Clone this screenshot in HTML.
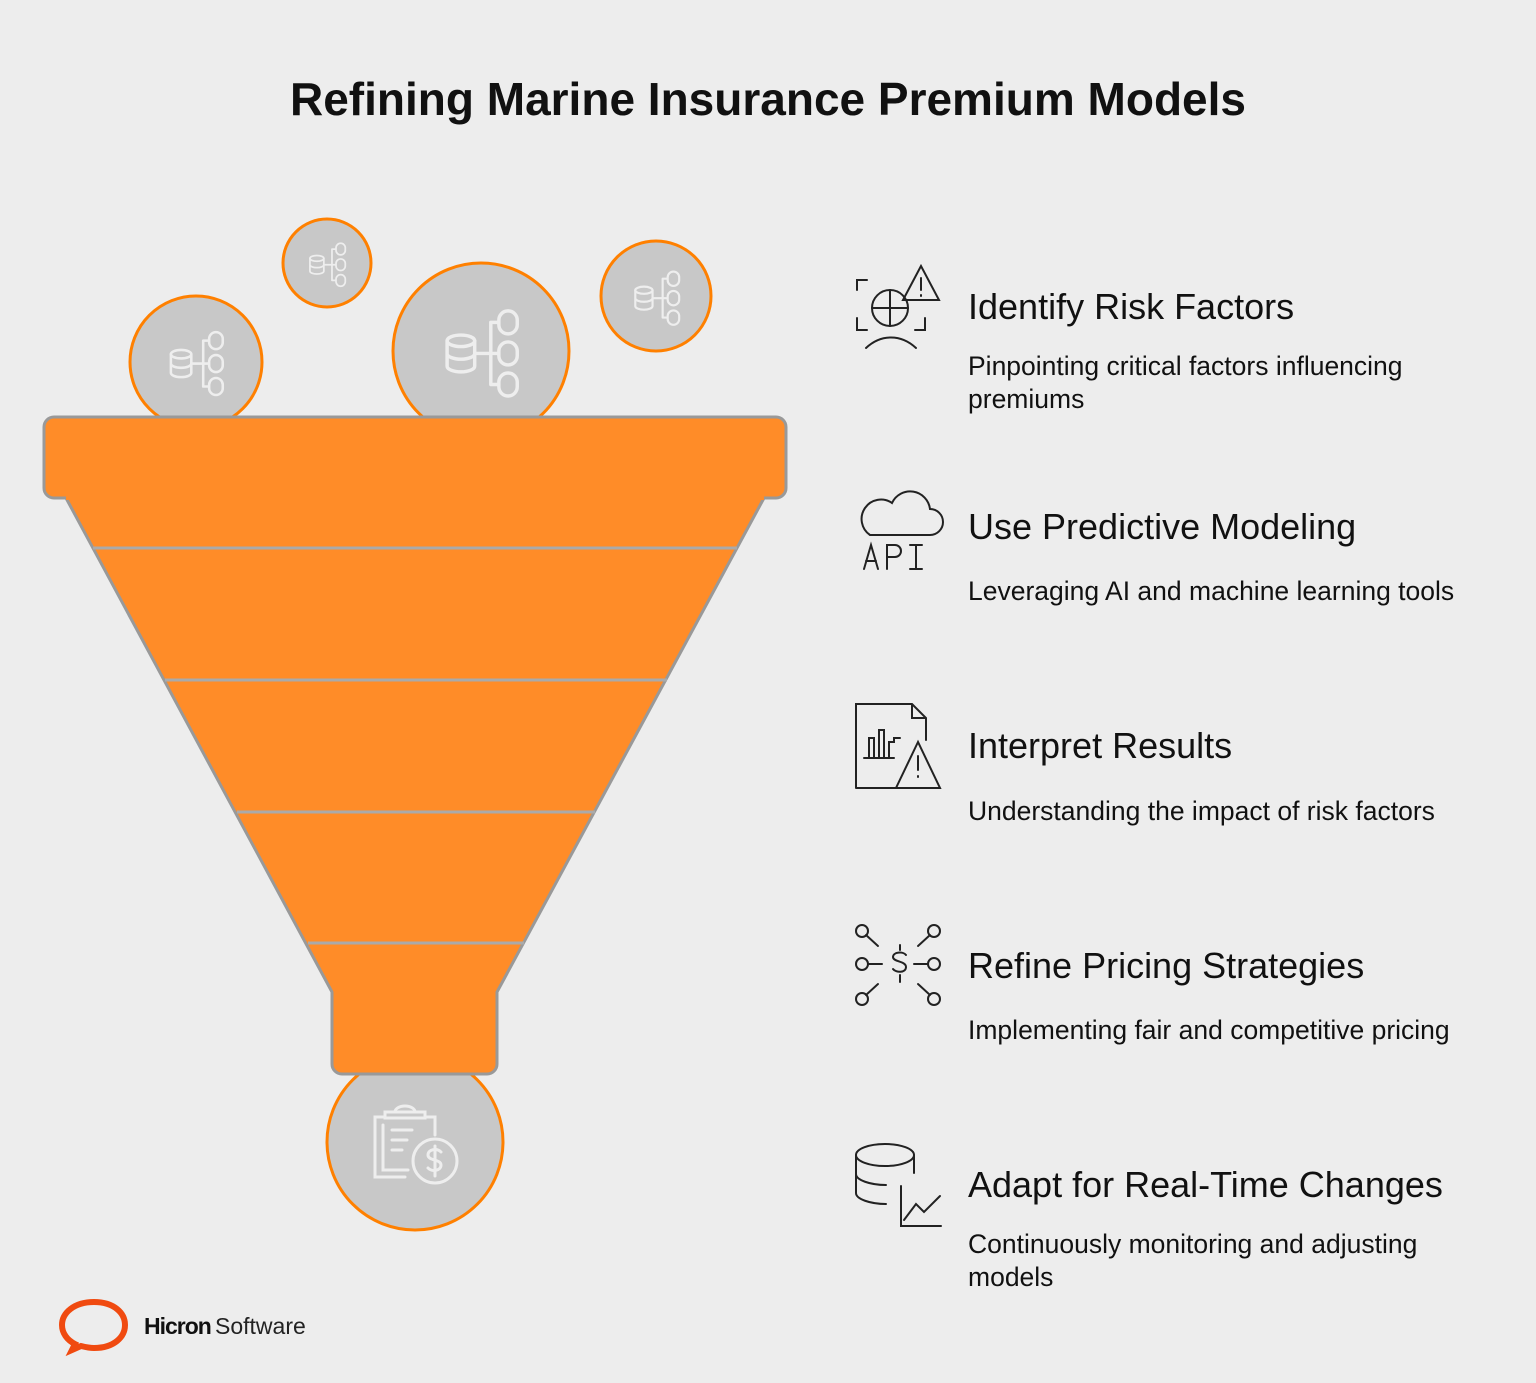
<!DOCTYPE html>
<html><head><meta charset="utf-8"><style>
body{margin:0;background:#ededed;width:1536px;height:1383px;overflow:hidden;font-family:"Liberation Sans",Arial,sans-serif;position:relative}
.t{position:absolute;left:0;width:1536px;top:72px;text-align:center;font-weight:bold;font-size:46px;color:#111}
.h{position:absolute;left:968px;font-size:36px;color:#111}
.d{position:absolute;left:968px;font-size:26.5px;color:#111;line-height:33px;width:480px}
svg{position:absolute;left:0;top:0}
</style></head><body>
<div class="t">Refining Marine Insurance Premium Models</div>
<svg width="1536" height="1383" viewBox="0 0 1536 1383">
<defs>
<g id="db" fill="none" stroke="#eee" stroke-width="3" stroke-linecap="round">
<ellipse cx="-14" cy="-8" rx="12" ry="5"/><path d="M-26 -8v22a12 5 0 0 0 24 0v-22M-26 3a12 5 0 0 0 24 0"/>
<path d="M-2 3h14M12 -24v54M12 -24h6M12 30h6M12 3h6"/>
<rect x="19" y="-34" width="16" height="20" rx="8"/><rect x="19" y="-7" width="16" height="20" rx="8"/><rect x="19" y="20" width="16" height="20" rx="8"/>
</g>
</defs>
<circle cx="196" cy="362" r="66" fill="#c8c8c8" stroke="#ff8000" stroke-width="3"/>
<use href="#db" transform="translate(193,361) scale(0.85)"/>
<circle cx="327" cy="263" r="44" fill="#c8c8c8" stroke="#ff8000" stroke-width="3"/>
<use href="#db" transform="translate(325,263) scale(0.58)"/>
<circle cx="481" cy="351" r="88" fill="#c8c8c8" stroke="#ff8000" stroke-width="3"/>
<use href="#db" transform="translate(477,350) scale(1.15)"/>
<circle cx="656" cy="296" r="55" fill="#c8c8c8" stroke="#ff8000" stroke-width="3"/>
<use href="#db" transform="translate(654,296) scale(0.72)"/>
<circle cx="415" cy="1142" r="88" fill="#c8c8c8" stroke="#ff8000" stroke-width="3"/>
<g fill="none" stroke="#eee" stroke-width="3" stroke-linecap="round">
<path d="M405 1177h-30v-60h10M435 1135v-18h-10M385 1112h40v6h-40zM395 1112a10 6 0 0 1 20 0"/>
<path d="M383 1125v45h25M392 1130h20M392 1140h15M392 1150h10"/>
<circle cx="435" cy="1161" r="22"/><path d="M441 1152c-4-4-13-3-13 3s13 4 13 10-9 7-13 3M435 1146v30"/>
</g>
<path d="M66 498 L764 498 L497 992 V1064 a10 10 0 0 1 -10 10 H342 a10 10 0 0 1 -10 -10 V992 Z" fill="#ff8c28" stroke="#999" stroke-width="3" stroke-linejoin="round"/>
<rect x="44" y="417" width="742" height="81" rx="10" fill="#ff8c28" stroke="#999" stroke-width="3"/>
<rect x="66" y="480" width="698" height="20" fill="#ff8c28"/>
<g stroke="#aaa" stroke-width="3">
<line x1="93" y1="548" x2="737" y2="548"/><line x1="165" y1="680" x2="667" y2="680"/>
<line x1="237" y1="812" x2="595" y2="812"/><line x1="308" y1="943" x2="524" y2="943"/>
</g>
<g fill="none" stroke="#222" stroke-width="2" stroke-linecap="round">
<path d="M857 290v-10h10M857 318v12h10M925 318v12h-10"/><circle cx="890" cy="308" r="18"/><path d="M872 308h36M890 290v36"/>
<path d="M866 348c15-14 35-14 50 0"/><path d="M921 266l-18 34h36z"/><path d="M921 278v12M921 295v1"/>
<path d="M870 535h60a13 13 0 0 0 0-26a20 20 0 0 0-38-6a15 15 0 0 0-22 32z"/>
<path d="M864 569l7-24 7 24M866 561h10M887 569v-24h8a6 6 0 0 1 0 12h-8M910 545h12M916 545v24M910 569h12"/>
<path d="M856 788v-84h56l14 14v22M856 788h40M912 704v14h14"/>
<path d="M869 758v-20h5v20M879 758v-28h5v28M889 758v-16h5v-4h6M864 758h30"/><path d="M918 742l-22 46h44z"/><path d="M918 756v14M918 776v1"/>
<circle cx="862" cy="931" r="6"/><path d="M866 935l12 11"/><circle cx="862" cy="964" r="6"/><path d="M868 964h14"/>
<circle cx="862" cy="999" r="6"/><path d="M866 995l12-11"/><circle cx="934" cy="931" r="6"/><path d="M930 935l-12 11"/>
<circle cx="934" cy="964" r="6"/><path d="M928 964h-14"/><circle cx="934" cy="999" r="6"/><path d="M930 995l-12-11"/>
<path d="M906 955c-3-4-13-3-13 2s13 4 13 10-10 6-13 2M900 945v5M900 975v7"/>
<ellipse cx="885" cy="1155" rx="29" ry="11"/><path d="M856 1155v38c0 6 14 11 30 11M914 1155v18M856 1174c0 6 14 11 30 11"/>
<path d="M901 1186v40h40M904 1220l12-16 8 8 16-16"/>
</g>
<path d="M94 1302c-20 0-32 11-32 23 0 8 5 15 13 19l-3 6 9-4c4 1 9 2 13 2 20 0 31-11 31-23s-11-23-31-23z" fill="none" stroke="#f04a10" stroke-width="6"/>
<text x="144" y="1334" font-size="23" font-weight="bold" fill="#111" font-family="Liberation Sans,sans-serif" letter-spacing="-1">Hicron</text>
<text x="215" y="1334" font-size="23" fill="#222" font-family="Liberation Sans,sans-serif">Software</text>
</svg>
<div class="h" style="top:286px">Identify Risk Factors</div>
<div class="d" style="top:350px">Pinpointing critical factors influencing premiums</div>
<div class="h" style="top:506px">Use Predictive Modeling</div>
<div class="d" style="top:575px;width:540px">Leveraging AI and machine learning tools</div>
<div class="h" style="top:725px">Interpret Results</div>
<div class="d" style="top:795px;width:540px">Understanding the impact of risk factors</div>
<div class="h" style="top:945px">Refine Pricing Strategies</div>
<div class="d" style="top:1014px;width:540px">Implementing fair and competitive pricing</div>
<div class="h" style="top:1164px">Adapt for Real-Time Changes</div>
<div class="d" style="top:1228px">Continuously monitoring and adjusting models</div>
</body></html>
